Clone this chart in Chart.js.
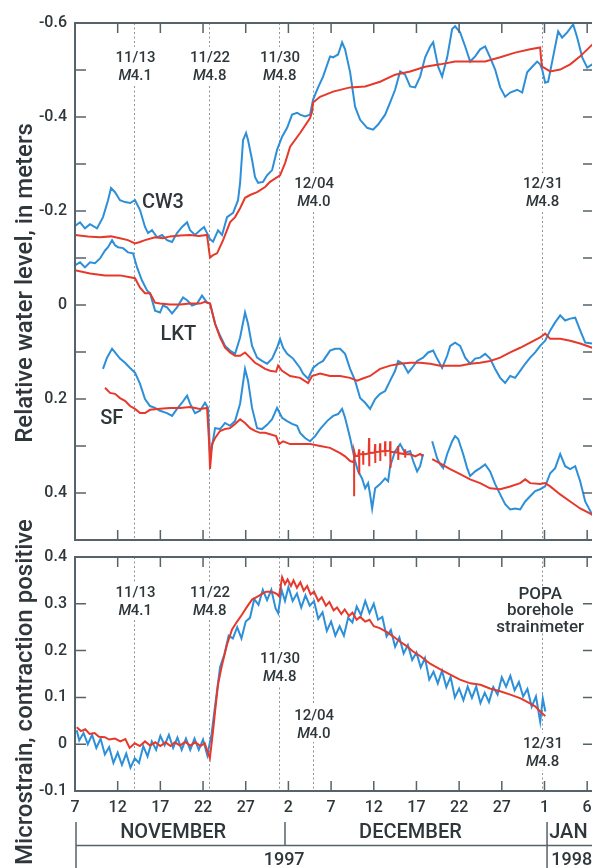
<!DOCTYPE html>
<html><head><meta charset="utf-8">
<script src="https://cdn.jsdelivr.net/npm/chart.js@4.4.1/dist/chart.umd.min.js"></script>
<style>
html,body{margin:0;padding:0;background:#fff;overflow:hidden;width:592px;height:868px;}
canvas{position:absolute;left:0;top:0;}
</style></head><body>
<canvas id="topChart" width="600" height="868"></canvas>
<canvas id="botChart" width="600" height="868"></canvas>
<script>
// ---------- DATA (x = days after 7 November 1997) ----------
const xTickDays = [0,5,10,15,20,25,30,35,40,45,50,55,60];
const xTickLabels = ['7','12','17','22','27','2','7','12','17','22','27','1','6'];
const topYTicks = [-0.6,-0.4,-0.2,0,0.2,0.4];
const topYMinor = [-0.6,-0.5,-0.4,-0.3,-0.2,-0.1,0,0.1,0.2,0.3,0.4,0.5];
const botYTicks = [-0.1,0,0.1,0.2,0.3,0.4];

const eventDays = [6.97,15.7,23.9,27.9,54.7];
const eventDates = ['11/13','11/22','11/30','12/04','12/31'];
const eventMags = ['4.1','4.8','4.8','4.0','4.8'];

const cw3Blue = [[0,-0.168],[0.59,-0.176],[1.17,-0.163],[1.76,-0.172],[2.58,-0.163],[3.28,-0.187],[3.87,-0.223],[4.22,-0.249],[4.69,-0.240],[5.27,-0.223],[5.86,-0.219],[6.45,-0.217],[7.03,-0.223],[7.62,-0.202],[8.20,-0.166],[8.56,-0.153],[9.02,-0.159],[9.61,-0.144],[10.20,-0.149],[10.78,-0.138],[11.37,-0.134],[11.95,-0.153],[12.54,-0.166],[13.13,-0.176],[13.48,-0.159],[14.06,-0.149],[14.65,-0.159],[15.12,-0.166],[15.47,-0.153],[15.82,-0.140],[16.17,-0.135],[16.76,-0.159],[17.23,-0.149],[17.81,-0.187],[18.52,-0.196],[19.10,-0.223],[19.34,-0.260],[19.69,-0.351],[20.04,-0.366],[20.27,-0.351],[20.74,-0.309],[21.09,-0.272],[21.45,-0.260],[22.03,-0.262],[22.50,-0.276],[23.09,-0.287],[23.67,-0.330],[24.26,-0.358],[24.85,-0.377],[25.43,-0.405],[26.02,-0.409],[26.37,-0.405],[26.95,-0.401],[27.54,-0.405],[27.89,-0.437],[28.48,-0.463],[29.06,-0.486],[29.88,-0.529],[30.24,-0.527],[30.82,-0.533],[31.29,-0.559],[31.64,-0.544],[32.23,-0.495],[32.81,-0.422],[33.40,-0.394],[34.22,-0.377],[34.92,-0.373],[35.51,-0.384],[36.33,-0.405],[36.92,-0.431],[37.50,-0.458],[38.09,-0.497],[38.67,-0.490],[39.26,-0.465],[39.85,-0.463],[40.43,-0.486],[41.02,-0.527],[41.61,-0.550],[41.96,-0.559],[42.54,-0.507],[43.01,-0.486],[43.60,-0.527],[44.18,-0.587],[44.53,-0.593],[45.12,-0.580],[45.71,-0.550],[46.29,-0.518],[46.88,-0.529],[47.46,-0.544],[48.05,-0.550],[48.63,-0.527],[49.22,-0.501],[49.81,-0.463],[50.39,-0.443],[50.98,-0.452],[51.80,-0.458],[52.39,-0.452],[52.97,-0.495],[53.56,-0.507],[54.14,-0.518],[54.49,-0.512],[54.73,-0.501],[55.08,-0.473],[55.43,-0.475],[56.02,-0.529],[56.60,-0.582],[57.07,-0.569],[57.66,-0.580],[58.36,-0.597],[58.83,-0.569],[59.42,-0.527],[60.00,-0.505],[60.59,-0.512],[60.8,-0.510]];
const cw3Red = [[0,-0.149],[1.5,-0.146],[2.93,-0.144],[4.2,-0.146],[5.27,-0.142],[6.2,-0.138],[7.03,-0.131],[7.6,-0.134],[8.20,-0.138],[9.38,-0.144],[10.3,-0.142],[11.13,-0.146],[12.3,-0.148],[13.48,-0.149],[14.5,-0.147],[15.47,-0.149],[15.70,-0.116],[15.82,-0.101],[16.17,-0.106],[16.64,-0.110],[17.35,-0.138],[18.16,-0.176],[18.75,-0.187],[19.34,-0.206],[19.92,-0.228],[20.51,-0.234],[21.33,-0.240],[22.27,-0.251],[22.85,-0.262],[24.02,-0.276],[24.61,-0.302],[25.20,-0.337],[26.37,-0.366],[27.54,-0.398],[27.77,-0.411],[27.89,-0.431],[28.71,-0.443],[30.24,-0.454],[32.23,-0.463],[33.99,-0.465],[35.74,-0.475],[37.50,-0.490],[39.26,-0.497],[41.02,-0.507],[42.77,-0.512],[44.53,-0.518],[46.29,-0.518],[48.05,-0.518],[49.81,-0.527],[51.56,-0.537],[53.32,-0.544],[54.49,-0.548],[54.61,-0.522],[54.73,-0.507],[55.67,-0.497],[56.84,-0.501],[58.01,-0.512],[59.18,-0.529],[60.59,-0.554],[60.8,-0.558]];
const lktBlue = [[0,-0.084],[0.59,-0.091],[1.17,-0.080],[1.76,-0.091],[2.34,-0.089],[2.93,-0.099],[3.52,-0.116],[3.87,-0.123],[4.34,-0.138],[4.69,-0.127],[5.04,-0.123],[5.63,-0.121],[6.21,-0.112],[6.80,-0.110],[7.27,-0.080],[7.85,-0.052],[8.44,-0.031],[8.79,-0.025],[9.38,0.012],[9.96,0.016],[10.31,0.001],[10.78,0.005],[11.37,0.018],[11.95,0.005],[12.66,-0.016],[13.13,-0.010],[13.71,0.001],[14.30,-0.003],[14.88,-0.020],[15.47,-0.005],[15.82,-0.003],[16.41,0.040],[16.99,0.065],[17.58,0.087],[18.16,0.097],[18.75,0.104],[19.34,0.069],[19.92,0.016],[20.27,0.040],[20.74,0.087],[21.33,0.112],[21.91,0.119],[22.50,0.125],[23.09,0.114],[23.67,0.091],[24.02,0.072],[24.38,0.091],[24.85,0.104],[25.55,0.114],[26.37,0.134],[26.72,0.146],[27.31,0.157],[27.89,0.134],[28.48,0.125],[29.06,0.119],[29.88,0.097],[30.47,0.093],[31.06,0.093],[31.64,0.104],[32.23,0.136],[32.81,0.161],[33.40,0.198],[33.99,0.208],[34.57,0.221],[35.16,0.200],[35.74,0.189],[36.33,0.183],[36.92,0.161],[37.50,0.140],[37.85,0.119],[38.44,0.125],[39.03,0.144],[39.49,0.134],[40.08,0.119],[40.78,0.112],[41.37,0.101],[41.96,0.097],[42.42,0.114],[43.01,0.134],[43.60,0.108],[43.95,0.087],[44.53,0.080],[45.12,0.087],[45.71,0.112],[46.29,0.125],[46.88,0.114],[47.46,0.112],[48.05,0.104],[48.63,0.114],[49.22,0.136],[49.81,0.155],[50.39,0.166],[50.98,0.151],[51.56,0.155],[52.15,0.140],[52.74,0.125],[53.32,0.112],[53.91,0.101],[54.49,0.087],[55.08,0.076],[55.67,0.054],[56.25,0.037],[56.84,0.022],[57.42,0.033],[58.01,0.029],[58.60,0.027],[59.18,0.054],[59.77,0.080],[60.59,0.082],[60.8,0.082]];
const lktRed = [[0,-0.074],[1.76,-0.067],[3.52,-0.063],[5.27,-0.063],[6.45,-0.059],[7.03,-0.057],[7.62,-0.037],[8.20,-0.025],[8.79,-0.025],[9.38,-0.005],[9.96,-0.003],[11.13,-0.001],[12.31,-0.001],[13.48,-0.003],[14.65,-0.003],[15.23,-0.007],[15.82,-0.003],[16.41,0.040],[16.99,0.069],[17.58,0.091],[18.16,0.101],[18.75,0.108],[19.34,0.108],[19.92,0.101],[20.51,0.112],[21.09,0.123],[21.68,0.129],[22.27,0.136],[22.85,0.140],[23.56,0.142],[23.79,0.129],[24.26,0.140],[25.20,0.151],[26.37,0.155],[27.31,0.166],[27.77,0.151],[28.71,0.146],[29.88,0.151],[31.06,0.151],[32.23,0.155],[33.05,0.161],[33.63,0.157],[34.57,0.151],[35.74,0.136],[36.92,0.129],[38.09,0.125],[39.26,0.123],[40.43,0.123],[41.61,0.125],[42.77,0.129],[43.95,0.129],[45.12,0.129],[46.29,0.125],[47.46,0.123],[48.63,0.119],[49.81,0.112],[50.98,0.101],[52.15,0.091],[53.32,0.080],[54.49,0.069],[55.08,0.061],[55.67,0.072],[56.84,0.072],[58.01,0.076],[59.18,0.082],[60.59,0.091],[60.8,0.092]];
const sfBlue = [[3.28,0.136],[3.75,0.112],[4.34,0.093],[4.69,0.101],[5.27,0.114],[5.86,0.123],[6.45,0.134],[7.03,0.144],[7.62,0.168],[8.20,0.200],[8.79,0.215],[9.38,0.219],[9.96,0.225],[10.78,0.230],[11.37,0.236],[11.95,0.221],[12.54,0.208],[13.13,0.193],[13.48,0.210],[14.06,0.230],[14.65,0.225],[15.23,0.208],[15.59,0.219],[15.82,0.317],[16.06,0.300],[16.41,0.262],[16.99,0.264],[17.58,0.251],[18.16,0.257],[18.75,0.247],[19.34,0.210],[19.92,0.136],[20.27,0.161],[20.74,0.219],[21.33,0.262],[21.91,0.264],[22.50,0.255],[23.09,0.243],[23.67,0.219],[24.26,0.240],[24.85,0.247],[25.43,0.253],[26.02,0.257],[26.37,0.272],[26.95,0.283],[27.54,0.290],[28.13,0.279],[28.71,0.264],[29.53,0.247],[30.24,0.236],[30.82,0.232],[31.29,0.221],[31.64,0.240],[32.23,0.283],[32.81,0.332],[33.17,0.354],[33.63,0.369],[33.99,0.390],[34.34,0.379],[34.57,0.403],[34.81,0.433],[35.16,0.390],[35.74,0.381],[36.33,0.369],[36.68,0.375],[36.92,0.343],[37.50,0.311],[38.09,0.296],[38.67,0.315],[39.26,0.311],[39.61,0.332],[40.08,0.354],[40.43,0.343],[40.78,0.317],[41.3,null],[41.84,0.290],[42.42,0.326],[42.77,0.339],[43.13,0.347],[43.60,0.317],[44.18,0.290],[44.53,0.279],[44.89,0.285],[45.47,0.317],[45.94,0.347],[46.29,0.364],[46.88,0.354],[47.46,0.347],[48.05,0.339],[48.63,0.354],[49.22,0.381],[49.81,0.403],[50.39,0.424],[50.98,0.435],[51.56,0.433],[52.15,0.435],[52.74,0.418],[53.32,0.407],[53.91,0.396],[54.49,0.392],[55.08,0.386],[55.67,0.358],[56.25,0.347],[56.84,0.317],[57.42,0.343],[58.01,0.349],[58.60,0.343],[59.18,0.375],[59.77,0.418],[60.59,0.446],[60.8,0.452]];
const sfRed = [[3.52,0.176],[4.10,0.187],[4.69,0.189],[5.27,0.198],[5.86,0.204],[6.45,0.215],[7.03,0.221],[7.62,0.230],[8.20,0.230],[8.79,0.223],[9.96,0.221],[11.13,0.219],[12.31,0.219],[13.48,0.217],[14.65,0.221],[15.47,0.219],[15.70,0.290],[15.82,0.349],[16.06,0.296],[16.41,0.283],[16.99,0.268],[17.58,0.264],[18.16,0.262],[18.75,0.253],[19.34,0.243],[19.92,0.251],[20.51,0.262],[21.09,0.268],[21.68,0.272],[22.27,0.272],[22.85,0.275],[23.56,0.279],[23.91,0.296],[24.38,0.290],[25.20,0.296],[26.37,0.296],[27.54,0.296],[28.71,0.300],[29.88,0.304],[31.06,0.315],[31.64,0.322],[32.23,0.332],[32.58,0.334],[32.70,0.330],[32.70,0.407],[32.70,0.311],[32.85,0.322],[33.2,0.320],[33.28,0.307],[33.28,0.360],[33.33,0.318],[33.7,0.317],[33.75,0.311],[33.75,0.340],[33.8,0.318],[34.4,0.316],[34.45,0.283],[34.45,0.343],[34.5,0.315],[35.1,0.314],[35.16,0.296],[35.16,0.336],[35.2,0.313],[35.7,0.312],[35.74,0.294],[35.74,0.332],[35.8,0.311],[36.3,0.311],[36.33,0.290],[36.33,0.322],[36.4,0.311],[36.9,0.310],[36.92,0.290],[36.92,0.347],[37.0,0.312],[37.8,0.314],[37.85,0.300],[37.85,0.330],[37.9,0.315],[38.6,0.317],[38.67,0.307],[38.67,0.325],[38.7,0.318],[39.26,0.317],[39.85,0.322],[40.43,0.317],[40.78,0.322],[41.3,null],[41.84,0.328],[42.77,0.337],[43.95,0.349],[45.12,0.360],[46.29,0.371],[47.46,0.379],[48.63,0.390],[49.81,0.392],[50.98,0.386],[52.15,0.379],[52.74,0.371],[53.32,0.379],[54.49,0.381],[55.08,0.379],[55.67,0.386],[56.84,0.403],[58.01,0.418],[59.18,0.433],[60.59,0.446],[60.8,0.449]];

const strainBlue = [[0.2,0.030],[0.5,0.008],[1,0.024],[1.5,0.000],[2,0.020],[2.5,-0.008],[3,0.012],[3.5,-0.022],[4,-0.006],[4.5,-0.040],[5,-0.018],[5.5,-0.044],[6,-0.020],[6.5,-0.050],[7,-0.030],[7.5,-0.040],[8,-0.004],[8.5,-0.026],[9,0.006],[9.5,-0.012],[10,0.018],[10.5,-0.002],[11,0.020],[11.5,-0.008],[12,0.014],[12.5,-0.012],[13,0.012],[13.5,-0.012],[14,0.012],[14.5,-0.012],[15,0.010],[15.5,-0.024],[16,0.022],[16.5,0.095],[17,0.165],[17.5,0.192],[18,0.232],[18.5,0.226],[19,0.250],[19.5,0.226],[20,0.262],[20.5,0.270],[21,0.310],[21.5,0.298],[22,0.330],[22.5,0.308],[23,0.330],[23.5,0.290],[23.8,0.280],[24.2,0.330],[24.6,0.306],[25,0.336],[25.5,0.306],[26,0.322],[26.5,0.292],[27,0.318],[27.5,0.296],[28,0.306],[28.5,0.268],[29,0.282],[29.5,0.242],[30,0.262],[30.5,0.232],[31,0.252],[31.5,0.232],[32,0.270],[32.5,0.260],[33,0.294],[33.5,0.276],[34,0.306],[34.5,0.280],[35,0.300],[35.5,0.266],[36,0.272],[36.5,0.230],[37,0.244],[37.5,0.208],[38,0.228],[38.5,0.194],[39,0.212],[39.5,0.180],[40,0.196],[40.5,0.164],[41,0.184],[41.5,0.138],[42,0.155],[42.5,0.130],[43,0.157],[43.5,0.122],[44,0.144],[44.5,0.100],[45,0.119],[45.5,0.094],[46,0.123],[46.5,0.099],[47,0.123],[47.5,0.088],[48,0.110],[48.5,0.090],[49,0.122],[49.5,0.106],[50,0.143],[50.5,0.123],[51,0.146],[51.5,0.115],[52,0.133],[52.5,0.102],[53,0.118],[53.5,0.080],[54,0.102],[54.5,0.048],[54.8,0.098],[55.1,0.070]];
const strainRed = [[0.2,0.036],[0.7,0.028],[1.2,0.032],[1.7,0.022],[2.3,0.024],[2.8,0.016],[3.5,0.015],[4.0,0.010],[4.7,0.012],[5.3,0.006],[5.9,0.011],[6.4,-0.008],[7.0,0.002],[7.6,-0.004],[8.2,0.006],[8.8,-0.003],[9.4,0.004],[10.0,-0.004],[10.6,0.004],[11.2,-0.004],[11.7,0.004],[12.3,-0.003],[12.9,0.005],[13.5,-0.003],[14.1,0.004],[14.7,-0.004],[15.2,0.002],[15.8,-0.030],[16.17,0.028],[16.41,0.070],[16.76,0.128],[17.23,0.170],[17.81,0.213],[18.40,0.245],[18.99,0.262],[19.57,0.277],[20.16,0.294],[20.74,0.309],[21.33,0.315],[21.91,0.321],[22.4,0.326],[22.85,0.326],[23.3,0.324],[23.67,0.321],[23.91,0.316],[24.26,0.357],[24.6,0.342],[24.9,0.352],[25.3,0.338],[25.6,0.350],[26.0,0.334],[26.4,0.346],[26.8,0.328],[27.2,0.338],[27.6,0.320],[28.0,0.326],[28.5,0.306],[28.9,0.314],[29.4,0.296],[29.8,0.304],[30.3,0.286],[30.7,0.292],[31.2,0.278],[31.6,0.288],[32.1,0.274],[32.5,0.281],[33.0,0.266],[33.4,0.272],[34.0,0.262],[34.5,0.266],[35.0,0.252],[35.7,0.248],[36.5,0.240],[37.3,0.230],[38.1,0.219],[38.9,0.209],[39.6,0.198],[40.4,0.189],[41.6,0.172],[42.8,0.160],[43.9,0.149],[45.1,0.138],[46.3,0.130],[47.5,0.127],[48.6,0.119],[49.8,0.113],[51.0,0.106],[52.2,0.098],[53.3,0.087],[53.9,0.081],[54.5,0.070],[55.1,0.060]];

// ---------- STYLE / LAYOUT ----------
const FONT = "Roboto, 'Liberation Sans', sans-serif";
const INK = '#2f373b';
const FRAME = '#55636a';
const BLUE = '#2d8fd8';
const RED = '#e6392c';
const XMIN = 0, XMAX = 60.8;

const topEventBase = [62, 62, 62, 188, 188];
const botEventBase = [597, 597, 663, 720, 748];

function pts(a){ return a.map(p => ({x: p[0], y: p[1]})); }
function ds(data, color){
  return {data: pts(data), borderColor: color, borderWidth: 2, pointRadius: 0, tension: 0, spanGaps: false, fill: false};
}

function drawEvent(ctx, cx, base, i){
  ctx.font = `500 15px ${FONT}`;
  const w1 = ctx.measureText(eventDates[i]).width;
  const wn = ctx.measureText(eventMags[i]).width;
  ctx.font = `italic 500 15px ${FONT}`;
  const wm = ctx.measureText('M').width;
  const w = Math.max(w1, wm + wn) + 4;
  ctx.fillStyle = '#fff';
  ctx.fillRect(cx - w/2, base - 15, w, 37);
  ctx.fillStyle = INK;
  ctx.textAlign = 'left'; ctx.textBaseline = 'alphabetic';
  ctx.font = `500 15px ${FONT}`;
  ctx.fillText(eventDates[i], cx - w1/2, base);
  const x2 = cx - (wm + wn)/2;
  ctx.font = `italic 500 15px ${FONT}`;
  ctx.fillText('M', x2, base + 18);
  ctx.font = `500 15px ${FONT}`;
  ctx.fillText(eventMags[i], x2 + wm - 0.5, base + 18);
}

function text(ctx, s, x, y, size, align){
  ctx.font = `500 ${size}px ${FONT}`;
  ctx.fillStyle = INK;
  ctx.textAlign = align || 'center';
  ctx.textBaseline = 'alphabetic';
  ctx.fillText(s, x, y);
}

function vtitle(ctx, s, x, y){
  ctx.save();
  ctx.translate(x, y);
  ctx.rotate(-Math.PI/2);
  text(ctx, s, 0, 0, 24, 'center');
  ctx.restore();
}

function panelPlugin(opt){
  return {
    id: 'panel_' + opt.name,
    beforeDatasetsDraw(chart){
      const {ctx, chartArea: a, scales: {x}} = chart;
      ctx.save();
      ctx.strokeStyle = '#8c969a'; ctx.lineWidth = 1; ctx.setLineDash([2, 2.5]);
      eventDays.forEach(d => {
        const px = Math.round(x.getPixelForValue(d)) + 0.5;
        ctx.beginPath(); ctx.moveTo(px, a.top); ctx.lineTo(px, a.bottom); ctx.stroke();
      });
      ctx.setLineDash([]);
      opt.eventBase.forEach((b, i) => drawEvent(ctx, x.getPixelForValue(eventDays[i]) + 1, b, i));
      ctx.restore();
    },
    afterDatasetsDraw(chart){
      const {ctx, chartArea: a, scales: {x, y}} = chart;
      ctx.save();
      ctx.strokeStyle = FRAME;
      ctx.lineWidth = 1.5;
      xTickDays.forEach(d => {
        const px = x.getPixelForValue(d);
        ctx.beginPath();
        ctx.moveTo(px, a.top); ctx.lineTo(px, a.top + 10);
        ctx.moveTo(px, a.bottom); ctx.lineTo(px, a.bottom - 10);
        ctx.stroke();
      });
      opt.yTicks.forEach(v => {
        const py = y.getPixelForValue(v);
        ctx.beginPath();
        ctx.moveTo(a.left, py); ctx.lineTo(a.left + 11, py);
        ctx.moveTo(a.right, py); ctx.lineTo(a.right - 11, py);
        ctx.stroke();
      });
      ctx.lineWidth = 2;
      ctx.strokeRect(a.left, a.top, a.right - a.left, a.bottom - a.top);
      ctx.restore();
      ctx.save();
      opt.labels(chart);
      ctx.restore();
    }
  };
}

function options(yMin, yMax, reverse, yTicks, padTop, padBottom, showX){
  return {
    responsive: false, animation: false, events: [],
    layout: {padding: {left: 0, right: 6, top: padTop, bottom: padBottom}},
    plugins: {legend: {display: false}, tooltip: {enabled: false}, title: {display: false}},
    scales: {
      x: {
        type: 'linear', min: XMIN, max: XMAX, display: showX,
        grid: {display: false, drawTicks: false}, border: {display: false},
        afterBuildTicks: s => { s.ticks = xTickDays.map(v => ({value: v})); },
        afterFit: s => { s.height = showX ? 40 : 0; },
        ticks: {padding: 7, color: INK, font: {family: FONT, size: 16, weight: '500'}, maxRotation: 0, autoSkip: false,
          callback: v => { const i = xTickDays.indexOf(v); return i >= 0 ? xTickLabels[i] : ''; }}
      },
      y: {
        type: 'linear', min: yMin, max: yMax, reverse: reverse,
        grid: {display: false, drawTicks: false}, border: {display: false},
        afterBuildTicks: s => { s.ticks = yTicks.map(v => ({value: v})); },
        afterFit: s => { s.width = 75; },
        ticks: {padding: 8, color: INK, font: {family: FONT, size: 16, weight: '500'}, autoSkip: false,
          callback: v => (Math.abs(v) < 1e-9 ? '0' : v.toFixed(1))}
      }
    }
  };
}

// ---------- TOP PANEL: water levels ----------
new Chart(document.getElementById('topChart'), {
  type: 'line',
  data: {datasets: [ds(cw3Red, RED), ds(lktRed, RED), ds(sfRed, RED), ds(cw3Blue, BLUE), ds(lktBlue, BLUE), ds(sfBlue, BLUE)]},
  options: options(-0.6, 0.5, true, topYTicks, 23, 328, false),
  plugins: [panelPlugin({
    name: 'top', yTicks: topYMinor, eventBase: topEventBase,
    labels(chart){
      const {ctx, scales: {x, y}} = chart;
      text(ctx, 'CW3', x.getPixelForValue(10.3), y.getPixelForValue(-0.2065), 20);
      text(ctx, 'LKT', x.getPixelForValue(12.1), y.getPixelForValue(0.074), 20);
      text(ctx, 'SF', x.getPixelForValue(4.3), y.getPixelForValue(0.253), 20);
      vtitle(ctx, 'Relative water level, in meters', 32, 283);
    }
  })]
});

// ---------- BOTTOM PANEL: strain ----------
new Chart(document.getElementById('botChart'), {
  type: 'line',
  data: {datasets: [ds(strainRed, RED), ds(strainBlue, BLUE)]},
  options: options(-0.1, 0.4, false, botYTicks, 557, 37, true),
  plugins: [panelPlugin({
    name: 'bot', yTicks: botYTicks, eventBase: botEventBase,
    labels(chart){
      const {ctx, chartArea: a, scales: {x, y}} = chart;
      const px = x.getPixelForValue(54.5);
      const py = y.getPixelForValue(0.311);
      text(ctx, 'POPA', px, py, 17);
      text(ctx, 'borehole', px, py + 16, 17);
      text(ctx, 'strainmeter', px, py + 33, 17);
      vtitle(ctx, 'Microstrain, contraction positive', 32, 692);
      // month / year band
      ctx.strokeStyle = FRAME; ctx.lineWidth = 1.5;
      const l = a.left + 1;
      const d1 = x.getPixelForValue(24.6), d2 = x.getPixelForValue(55.3);
      ctx.beginPath();
      ctx.moveTo(l, 822); ctx.lineTo(l, 868);
      ctx.moveTo(l, 845.5); ctx.lineTo(600, 845.5);
      ctx.moveTo(d1, 822); ctx.lineTo(d1, 845.5);
      ctx.moveTo(d2, 822); ctx.lineTo(d2, 868);
      ctx.stroke();
      text(ctx, 'NOVEMBER', x.getPixelForValue(11.5), 838, 20);
      text(ctx, 'DECEMBER', x.getPixelForValue(39.3), 838, 20);
      text(ctx, 'JAN', x.getPixelForValue(57.8), 838, 20);
      text(ctx, '1997', x.getPixelForValue(24.5), 865, 18);
      text(ctx, '1998', x.getPixelForValue(58.2), 865, 18);
    }
  })]
});
</script>
</body></html>
